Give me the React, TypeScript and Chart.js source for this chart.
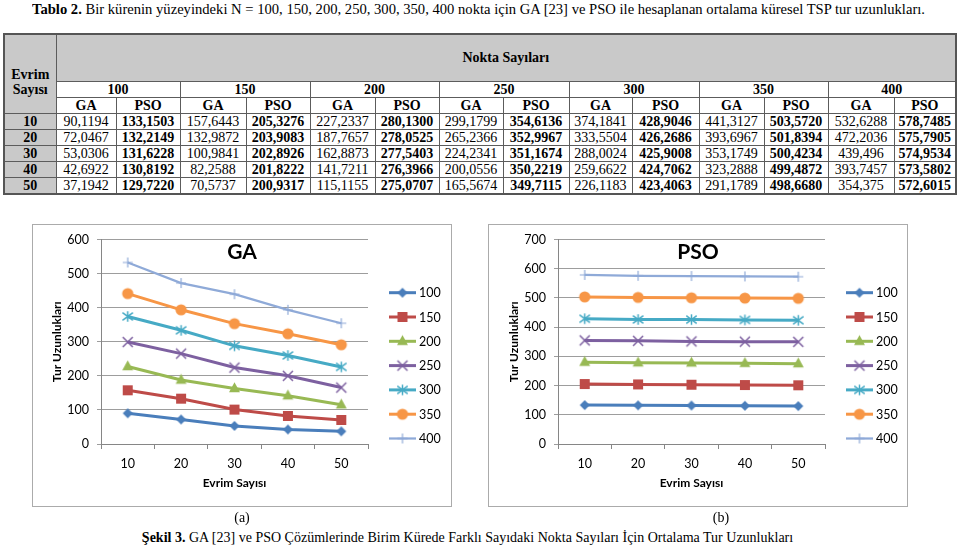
import React, { useEffect, useLayoutEffect, useRef } from 'react';
import { Chart, registerables } from 'chart.js';

Chart.register(...registerables);

// ---------- data ----------
const evrimSayisi = ['10', '20', '30', '40', '50'];
const noktaSayilari = ['100', '150', '200', '250', '300', '350', '400'];

// GA values, one row per Nokta Sayısı, one entry per Evrim Sayısı
const gaTable: string[][] = [
  ['90,1194', '72,0467', '53,0306', '42,6922', '37,1942'],
  ['157,6443', '132,9872', '100,9841', '82,2588', '70,5737'],
  ['227,2337', '187,7657', '162,8873', '141,7211', '115,1155'],
  ['299,1799', '265,2366', '224,2341', '200,0556', '165,5674'],
  ['374,1841', '333,5504', '288,0024', '259,6622', '226,1183'],
  ['441,3127', '393,6967', '353,1749', '323,2888', '291,1789'],
  ['532,6288', '472,2036', '439,496', '393,7457', '354,375'],
];

// PSO values
const psoTable: string[][] = [
  ['133,1503', '132,2149', '131,6228', '130,8192', '129,7220'],
  ['205,3276', '203,9083', '202,8926', '201,8222', '200,9317'],
  ['280,1300', '278,0525', '277,5403', '276,3966', '275,0707'],
  ['354,6136', '352,9967', '351,1674', '350,2219', '349,7115'],
  ['428,9046', '426,2686', '425,9008', '424,7062', '423,4063'],
  ['503,5720', '501,8394', '500,4234', '499,4872', '498,6680'],
  ['578,7485', '575,7905', '574,9534', '573,5802', '572,6015'],
];

const gaAxisMax = 600;
const psoAxisMax = 700;
const axisStep = 100;

const titleText = 'Bir kürenin yüzeyindeki N = 100, 150, 200, 250, 300, 350, 400 nokta için GA [23] ve PSO ile hesaplanan ortalama küresel TSP tur uzunlukları.';
const captionText = 'GA [23] ve PSO Çözümlerinde Birim Kürede Farklı Sayıdaki Nokta Sayıları İçin Ortalama Tur Uzunlukları';

// ---------- styles ----------
const seriesColors = ['#4A7EBB', '#BE4B48', '#98B954', '#7D60A0', '#46AAC5', '#F79646', '#8FAAD8'];
const markerShapes = ['diamond', 'square', 'triangle', 'x', 'star', 'circle', 'plus'];
const markerSizes = [5, 5, 6.3, 5, 5.2, 5.6, 5];
const lineWidths = [3, 3, 3, 3, 3, 3, 2.25];

const toNum = (s: string) => parseFloat(s.replace(',', '.'));

function makeMarker(shape: string, r: number, color: string): HTMLCanvasElement {
  const size = Math.ceil(2 * r + 4);
  const c = document.createElement('canvas');
  c.width = size;
  c.height = size;
  const ctx = c.getContext('2d')!;
  const x = size / 2;
  const y = size / 2;
  ctx.strokeStyle = color;
  ctx.fillStyle = color;
  ctx.lineWidth = 1.5;
  ctx.beginPath();
  switch (shape) {
    case 'diamond':
      ctx.moveTo(x - r, y);
      ctx.lineTo(x, y - r);
      ctx.lineTo(x + r, y);
      ctx.lineTo(x, y + r);
      ctx.closePath();
      ctx.fill();
      break;
    case 'square':
      ctx.rect(x - r, y - r, 2 * r, 2 * r);
      ctx.fill();
      break;
    case 'triangle':
      ctx.moveTo(x, y - r);
      ctx.lineTo(x + r * 0.866, y + r * 0.5 + 0.5);
      ctx.lineTo(x - r * 0.866, y + r * 0.5 + 0.5);
      ctx.closePath();
      ctx.fill();
      break;
    case 'circle':
      ctx.arc(x, y, r, 0, Math.PI * 2);
      ctx.fill();
      break;
    case 'x':
      ctx.moveTo(x - r, y - r);
      ctx.lineTo(x + r, y + r);
      ctx.moveTo(x + r, y - r);
      ctx.lineTo(x - r, y + r);
      ctx.stroke();
      break;
    case 'star':
      ctx.moveTo(x - r, y - r * 0.75);
      ctx.lineTo(x + r, y + r * 0.75);
      ctx.moveTo(x + r, y - r * 0.75);
      ctx.lineTo(x - r, y + r * 0.75);
      ctx.moveTo(x, y - r);
      ctx.lineTo(x, y + r);
      ctx.stroke();
      break;
    case 'plus':
      ctx.lineWidth = 1.2;
      ctx.moveTo(x, y - r);
      ctx.lineTo(x, y + r);
      ctx.moveTo(x - r, y);
      ctx.lineTo(x + r, y);
      ctx.stroke();
      break;
  }
  return c;
}

const chartFont = 'Lato, "Open Sans", sans-serif';

type ChartProps = {
  title: string;
  table: string[][];
  yMax: number;
  left: number;
  plotLeft: number;
  yTitleX: number;
  legendX: number;
};

const BOX_W = 420;
const BOX_H = 283;
const BOX_TOP = 224;

function LineChart({ title, table, yMax, left, plotLeft, yTitleX, legendX }: ChartProps) {
  const ref = useRef<HTMLCanvasElement>(null);
  useEffect(() => {
    const markers = table.map((_, i) => makeMarker(markerShapes[i], markerSizes[i], seriesColors[i]));
    const datasets = table.map((row, i) => ({
      label: noktaSayilari[i],
      data: row.map(toNum),
      borderColor: seriesColors[i],
      backgroundColor: seriesColors[i],
      borderWidth: lineWidths[i],
      pointStyle: markers[i] as any,
      pointRadius: markerSizes[i],
      tension: 0,
    }));

    const overlay = {
      id: 'overlay',
      afterDraw(chart: any) {
        const ctx = chart.ctx as CanvasRenderingContext2D;
        ctx.save();
        // chart title
        ctx.fillStyle = '#000';
        ctx.font = `bold 21px ${chartFont}`;
        ctx.textAlign = 'center';
        ctx.textBaseline = 'middle';
        ctx.fillText(title, chart.width / 2, 28);
        // legend
        ctx.font = `12.5px ${chartFont}`;
        ctx.textAlign = 'left';
        chart.data.datasets.forEach((ds: any, i: number) => {
          const y = 68.7 + i * 24.3;
          ctx.strokeStyle = ds.borderColor;
          ctx.lineWidth = ds.borderWidth;
          ctx.beginPath();
          ctx.moveTo(legendX, y);
          ctx.lineTo(legendX + 27, y);
          ctx.stroke();
          const m = ds.pointStyle as HTMLCanvasElement;
          ctx.drawImage(m, legendX + 13.5 - m.width / 2, y - m.height / 2);
          ctx.fillStyle = '#000';
          ctx.fillText(ds.label, legendX + 30, y + 0.5);
        });
        ctx.restore();
      },
    };

    const tickFont = { family: chartFont, size: 12.5 };
    const titleFont = { family: chartFont, size: 12, weight: 'bold' as const };

    const chart = new Chart(ref.current!, {
      type: 'line',
      data: { labels: evrimSayisi, datasets },
      options: {
        responsive: false,
        animation: false,
        layout: { padding: { top: 15.3, right: BOX_W - plotLeft - 267, bottom: 0, left: 0 } },
        plugins: {
          legend: { display: false },
          tooltip: { enabled: false },
        },
        scales: {
          x: {
            type: 'category',
            offset: true,
            grid: { offset: true, drawOnChartArea: false, tickLength: 5, color: '#868686' },
            border: { color: '#868686' },
            ticks: { font: tickFont, color: '#000', padding: 7, maxRotation: 0 },
            title: { display: true, text: 'Evrim Sayısı', font: titleFont, color: '#000', padding: { top: 0, bottom: 16.8 } },
            afterFit: (s: any) => {
              s.height = 63;
            },
          },
          y: {
            min: 0,
            max: yMax,
            ticks: { stepSize: axisStep, font: tickFont, color: '#000', padding: 8 },
            grid: { color: '#9d9d9d', tickLength: 4 },
            border: { color: '#868686' },
            title: { display: true, text: 'Tur Uzunlukları', font: titleFont, color: '#000', padding: { top: yTitleX - 7.2, bottom: 0 } },
            afterFit: (s: any) => {
              s.width = plotLeft;
            },
          },
        },
      },
      plugins: [overlay],
    });
    return () => chart.destroy();
  }, []);

  return (
    <>
      <canvas
        ref={ref}
        width={BOX_W}
        height={BOX_H}
        style={{ position: 'absolute', left, top: BOX_TOP, width: BOX_W, height: BOX_H }}
      />
      <div
        style={{
          position: 'absolute',
          left,
          top: BOX_TOP,
          width: BOX_W,
          height: BOX_H,
          boxSizing: 'border-box',
          border: '1px solid #ababab',
          pointerEvents: 'none',
        }}
      />
    </>
  );
}

const colWidths = [52, 60, 64, 66, 64, 65, 64, 64, 66, 63, 67, 65, 64, 66, 62];
const gray = '#c9c9c9';
const cellBorder = '1px solid #5c5c5c';

function DataTable() {
  const cell: React.CSSProperties = { border: cellBorder, padding: 0, textAlign: 'center', whiteSpace: 'nowrap' };
  const bold: React.CSSProperties = { ...cell, fontWeight: 'bold' };
  return (
    <table
      style={{
        position: 'absolute',
        left: 3,
        top: 33,
        width: 952,
        borderCollapse: 'collapse',
        tableLayout: 'fixed',
        fontFamily: '"Liberation Serif", "Times New Roman", serif',
        fontSize: 14,
        lineHeight: '15px',
        border: '2px solid #555',
        color: '#000',
      }}
    >
      <colgroup>
        {colWidths.map((w, i) => (
          <col key={i} style={{ width: w }} />
        ))}
      </colgroup>
      <tbody>
        <tr style={{ height: 47 }}>
          <td rowSpan={3} style={{ ...bold, background: gray, verticalAlign: 'top', paddingTop: 32 }}>
            Evrim
            <br />
            Sayısı
          </td>
          <td colSpan={14} style={{ ...bold, background: gray }}>
            Nokta Sayıları
          </td>
        </tr>
        <tr style={{ height: 16 }}>
          {noktaSayilari.map((n) => (
            <td key={n} colSpan={2} style={bold}>
              {n}
            </td>
          ))}
        </tr>
        <tr style={{ height: 16 }}>
          {noktaSayilari.map((n) => (
            <React.Fragment key={n}>
              <td style={bold}>GA</td>
              <td style={bold}>PSO</td>
            </React.Fragment>
          ))}
        </tr>
        {evrimSayisi.map((e, i) => (
          <tr key={e} style={{ height: 16.2 }}>
            <td style={{ ...bold, background: gray }}>{e}</td>
            {noktaSayilari.map((n, j) => (
              <React.Fragment key={n}>
                <td style={cell}>{gaTable[j][i]}</td>
                <td style={bold}>{psoTable[j][i]}</td>
              </React.Fragment>
            ))}
          </tr>
        ))}
      </tbody>
    </table>
  );
}

export default function App() {
  const titleRef = useRef<HTMLSpanElement>(null);
  useLayoutEffect(() => {
    const el = titleRef.current;
    if (!el) return;
    const w = el.getBoundingClientRect().width;
    if (w > 0) el.style.transform = `scaleX(${893 / w})`;
  }, []);

  const serif = '"Liberation Serif", "Times New Roman", serif';
  return (
    <div
      style={{
        position: 'fixed',
        left: 0,
        top: 0,
        width: 959,
        height: 557,
        background: '#fff',
        overflow: 'hidden',
        fontFamily: serif,
        color: '#000',
      }}
    >
      <span
        ref={titleRef}
        style={{
          position: 'absolute',
          left: 32,
          top: 1,
          fontSize: 15,
          lineHeight: '16px',
          whiteSpace: 'nowrap',
          transformOrigin: 'left top',
          display: 'inline-block',
        }}
      >
        <b>Tablo 2.</b> {titleText}
      </span>
      <DataTable />
      <LineChart title="GA" table={gaTable} yMax={gaAxisMax} left={32} plotLeft={69} yTitleX={25} legendX={357} />
      <LineChart title="PSO" table={psoTable} yMax={psoAxisMax} left={488} plotLeft={70} yTitleX={26} legendX={358} />
      <div style={{ position: 'absolute', left: 222, top: 510, width: 40, textAlign: 'center', fontSize: 14, lineHeight: '16px' }}>(a)</div>
      <div style={{ position: 'absolute', left: 701, top: 510, width: 40, textAlign: 'center', fontSize: 14, lineHeight: '16px' }}>(b)</div>
      <div style={{ position: 'absolute', left: -12, top: 530, width: 959, textAlign: 'center', fontSize: 14, lineHeight: '16px', whiteSpace: 'nowrap' }}>
        <b>Şekil 3.</b> {captionText}
      </div>
    </div>
  );
}
